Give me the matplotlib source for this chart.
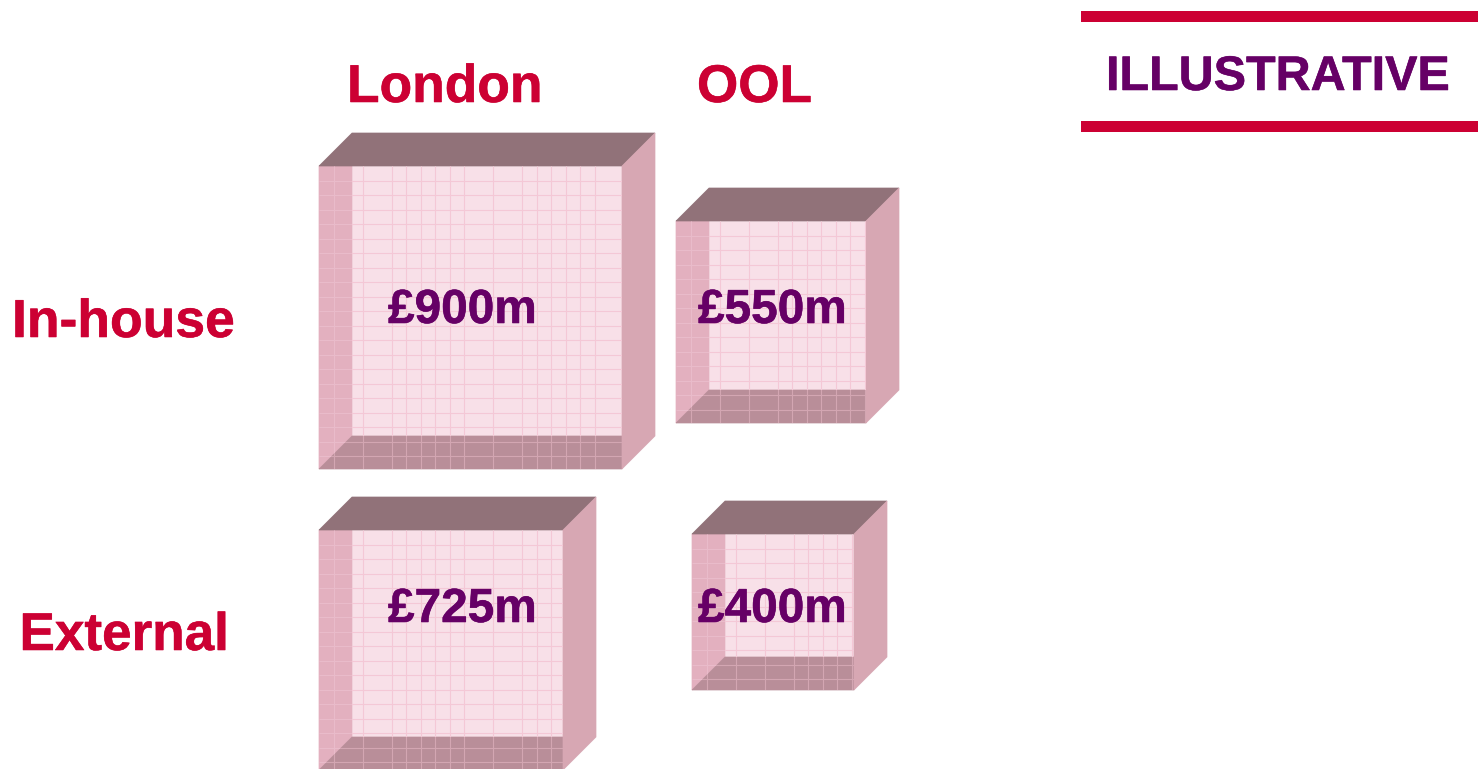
from matplotlib import pyplot as plt
from matplotlib.patches import Polygon, Rectangle
from matplotlib.collections import LineCollection
import matplotlib.patheffects as pe

plt.rcParams['font.family'] = ['Liberation Sans', 'DejaVu Sans']

# values
columns = ["London", "OOL"]
rows = ["In-house", "External"]
amounts = ["£900m", "£550m", "£725m", "£400m"]
stamp = "ILLUSTRATIVE"

# boxes (pixels): same order as amounts
box_left = [319, 676, 319, 692]
box_top = [166, 221, 530, 534]
box_width = [303, 190, 244, 162]
box_height = [303, 202, 240, 156]
depth = 33
cell = 14.5
# vertical grid lines that are not visible in each box
box_skip = [[2, 4, 11, 13, 20], [2, 4, 6], [2, 4, 11, 13], [2, 4, 6]]

RED = "#CC0033"
PURPLE = "#660066"


def grid_lines(x0, y0, w, h, skip):
    segs = []
    n = 1
    while n * cell < w:
        if n not in skip:
            segs.append([(x0 + n * cell, y0), (x0 + n * cell, y0 + h)])
        n += 1
    n = 1
    while n * cell < h:
        segs.append([(x0, y0 + n * cell), (x0 + w, y0 + n * cell)])
        n += 1
    return segs


def panel(ax, pts, face, segs=None, line_color=None):
    p = Polygon(pts, closed=True, facecolor=face, edgecolor=face, linewidth=0.5)
    ax.add_patch(p)
    if segs:
        lc = LineCollection(segs, colors=line_color, linewidths=0.8)
        ax.add_collection(lc)
        lc.set_clip_path(p)


def draw_box(ax, x0, y0, w, h, skip):
    segs = grid_lines(x0, y0, w, h, skip)
    x1, y1 = x0 + w, y0 + h
    # back wall, then sides
    panel(ax, [(x0 + depth, y0), (x1, y0), (x1, y1 - depth), (x0 + depth, y1 - depth)],
          "#F8E0E8", segs, "#F4C8D6")
    panel(ax, [(x0, y0), (x0 + depth, y0), (x0 + depth, y1 - depth), (x0, y1)],
          "#E3B0BF", segs, "#E9BBCA")
    panel(ax, [(x0, y1), (x0 + depth, y1 - depth), (x1, y1 - depth), (x1, y1)],
          "#B98E99", segs, "#D3A6B2")
    panel(ax, [(x0, y0), (x0 + depth, y0 - depth), (x1 + depth, y0 - depth), (x1, y0)],
          "#917279")
    panel(ax, [(x1, y0), (x1 + depth, y0 - depth), (x1 + depth, y1 - depth), (x1, y1)],
          "#D7A7B3")


def label(ax, x, y, s, color, size):
    ax.text(x, y, s, color=color, fontsize=size, fontweight="bold", va="baseline",
            path_effects=[pe.withStroke(linewidth=0.4, foreground=color)])


fig = plt.figure(figsize=(14.78, 7.69), dpi=100)
ax = fig.add_axes([0, 0, 1, 1])
ax.set_xlim(0, 1478)
ax.set_ylim(769, 0)
ax.axis("off")

for x0, y0, w, h, skip in zip(box_left, box_top, box_width, box_height, box_skip):
    draw_box(ax, x0, y0, w, h, skip)

# headers
label(ax, 347, 102, columns[0], RED, 38.4)
label(ax, 697, 102, columns[1], RED, 38.2)
label(ax, 12, 337, rows[0], RED, 38.5)
label(ax, 19.5, 650, rows[1], RED, 38.2)

# amounts
amount_x = [388, 698, 388, 698]
amount_y = [323, 323, 622, 622]
for tx, ty, s in zip(amount_x, amount_y, amounts):
    label(ax, tx, ty, s, PURPLE, 34.4)

# stamp top right
ax.add_patch(Rectangle((1081, 11), 397, 11, color=RED, linewidth=0))
ax.add_patch(Rectangle((1081, 121), 397, 11, color=RED, linewidth=0))
label(ax, 1106, 90, stamp, PURPLE, 34.9)

plt.savefig("out.png", dpi=100)
